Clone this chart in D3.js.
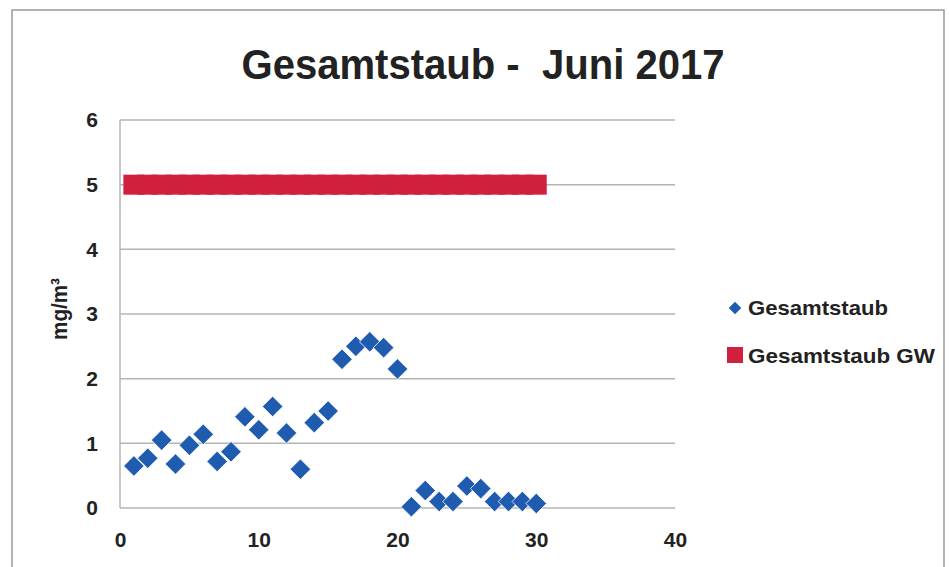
<!DOCTYPE html>
<html>
<head>
<meta charset="utf-8">
<script src="https://cdn.jsdelivr.net/npm/d3@7"></script>
<style>
  body { margin: 0; background: #fff; }
  text { font-family: "Liberation Sans Narrow", "Liberation Sans", Arial, sans-serif; fill: #222; }
</style>
</head>
<body>
<svg id="chart" width="949" height="567"></svg>
<script>
// Tage im Juni
var days = d3.range(1, 31)
// Gesamtstaub Tageswerte (mg/m3)
var staub = [0.65, 0.77, 1.05, 0.68, 0.97, 1.14, 0.72, 0.87, 1.41, 1.21,
             1.57, 1.16, 0.60, 1.32, 1.50, 2.30, 2.50, 2.57, 2.48, 2.15,
             0.02, 0.27, 0.10, 0.10, 0.34, 0.30, 0.10, 0.10, 0.10, 0.07]
// Grenzwert
var grenzwert = days.map(function () { return 5 })
var xTicks = [0, 10, 20, 30, 40]
var yTicks = [0, 1, 2, 3, 4, 5, 6]

var blue = '#1f5cb0'
var red = '#d11f3e'
var gridGray = '#b4b4b4'

var svg = d3.select('#chart')

// outer frame of the chart
svg.append('rect')
  .attr('x', 12).attr('y', 10)
  .attr('width', 932).attr('height', 600)
  .attr('fill', 'none')
  .attr('stroke', '#9a9a9a')
  .attr('stroke-width', 1.5)

var x = d3.scaleLinear().domain([0, 40]).range([120, 675])
var y = d3.scaleLinear().domain([0, 6]).range([508, 120])

// gridlines
svg.append('g')
  .selectAll('line')
  .data(yTicks)
  .enter().append('line')
  .attr('x1', x(0)).attr('x2', x(40))
  .attr('y1', d => y(d)).attr('y2', d => y(d))
  .attr('stroke', gridGray)
  .attr('stroke-width', 1.5)

// y axis line
svg.append('line')
  .attr('x1', x(0)).attr('x2', x(0))
  .attr('y1', y(0)).attr('y2', y(6))
  .attr('stroke', gridGray)
  .attr('stroke-width', 1.5)

// y axis labels
var yAxis = d3.axisLeft(y).tickValues(yTicks).tickFormat(d3.format('d')).tickSize(0).tickPadding(22)
svg.append('g')
  .attr('transform', 'translate(' + x(0) + ',0)')
  .call(yAxis)
  .call(g => g.select('.domain').remove())
  .selectAll('text')
  .attr('font-size', 21).attr('font-weight', 'bold')
  .style('font-family', '"Liberation Sans", Arial, sans-serif')
  .attr('fill', '#222')

// x axis labels
var xAxis = d3.axisBottom(x).tickValues(xTicks).tickFormat(d3.format('d')).tickSize(0).tickPadding(24)
svg.append('g')
  .attr('transform', 'translate(0,' + y(0) + ')')
  .call(xAxis)
  .call(g => g.select('.domain').remove())
  .selectAll('text')
  .attr('font-size', 21).attr('font-weight', 'bold')
  .style('font-family', '"Liberation Sans", Arial, sans-serif')
  .attr('fill', '#222')

// Grenzwert als grosse quadratische Marker
var sq = 21
svg.append('g')
  .selectAll('rect')
  .data(days)
  .enter().append('rect')
  .attr('x', (d, i) => x(d) - sq / 2)
  .attr('y', (d, i) => y(grenzwert[i]) - 10)
  .attr('width', sq)
  .attr('height', 20)
  .attr('fill', red)

// Messwerte als Rauten
var diamond = d3.symbol().type(d3.symbolDiamond2).size(270)
svg.append('g')
  .selectAll('path')
  .data(days)
  .enter().append('path')
  .attr('d', diamond)
  .attr('transform', (d, i) => 'translate(' + x(d) + ',' + y(staub[i]) + ')')
  .attr('fill', blue)
  .attr('stroke', '#fff')
  .attr('stroke-width', 0.8)

// title
svg.append('text')
  .attr('x', 483).attr('y', 79)
  .attr('text-anchor', 'middle')
  .attr('font-size', 43)
  .attr('font-weight', 'bold')
  .attr('textLength', 483)
  .attr('lengthAdjust', 'spacingAndGlyphs')
  .style('white-space', 'pre')
  .text('Gesamtstaub -  Juni 2017')

// y axis title
svg.append('text')
  .attr('transform', 'translate(67,309) rotate(-90)')
  .attr('text-anchor', 'middle')
  .attr('font-size', 22)
  .attr('font-weight', 'bold')
  .attr('textLength', 62)
  .attr('lengthAdjust', 'spacingAndGlyphs')
  .text('mg/m³')

// legend
var legend = svg.append('g')
legend.append('path')
  .attr('d', d3.symbol().type(d3.symbolDiamond2).size(100))
  .attr('transform', 'translate(735,308)')
  .attr('fill', blue)
legend.append('text')
  .attr('x', 748).attr('y', 315)
  .attr('font-size', 21)
  .attr('font-weight', 'bold')
  .attr('textLength', 140)
  .attr('lengthAdjust', 'spacingAndGlyphs')
  .text('Gesamtstaub')
legend.append('rect')
  .attr('x', 727).attr('y', 347)
  .attr('width', 16).attr('height', 16)
  .attr('fill', red)
legend.append('text')
  .attr('x', 748).attr('y', 363)
  .attr('font-size', 21)
  .attr('font-weight', 'bold')
  .attr('textLength', 187)
  .attr('lengthAdjust', 'spacingAndGlyphs')
  .text('Gesamtstaub GW')
</script>
</body>
</html>
